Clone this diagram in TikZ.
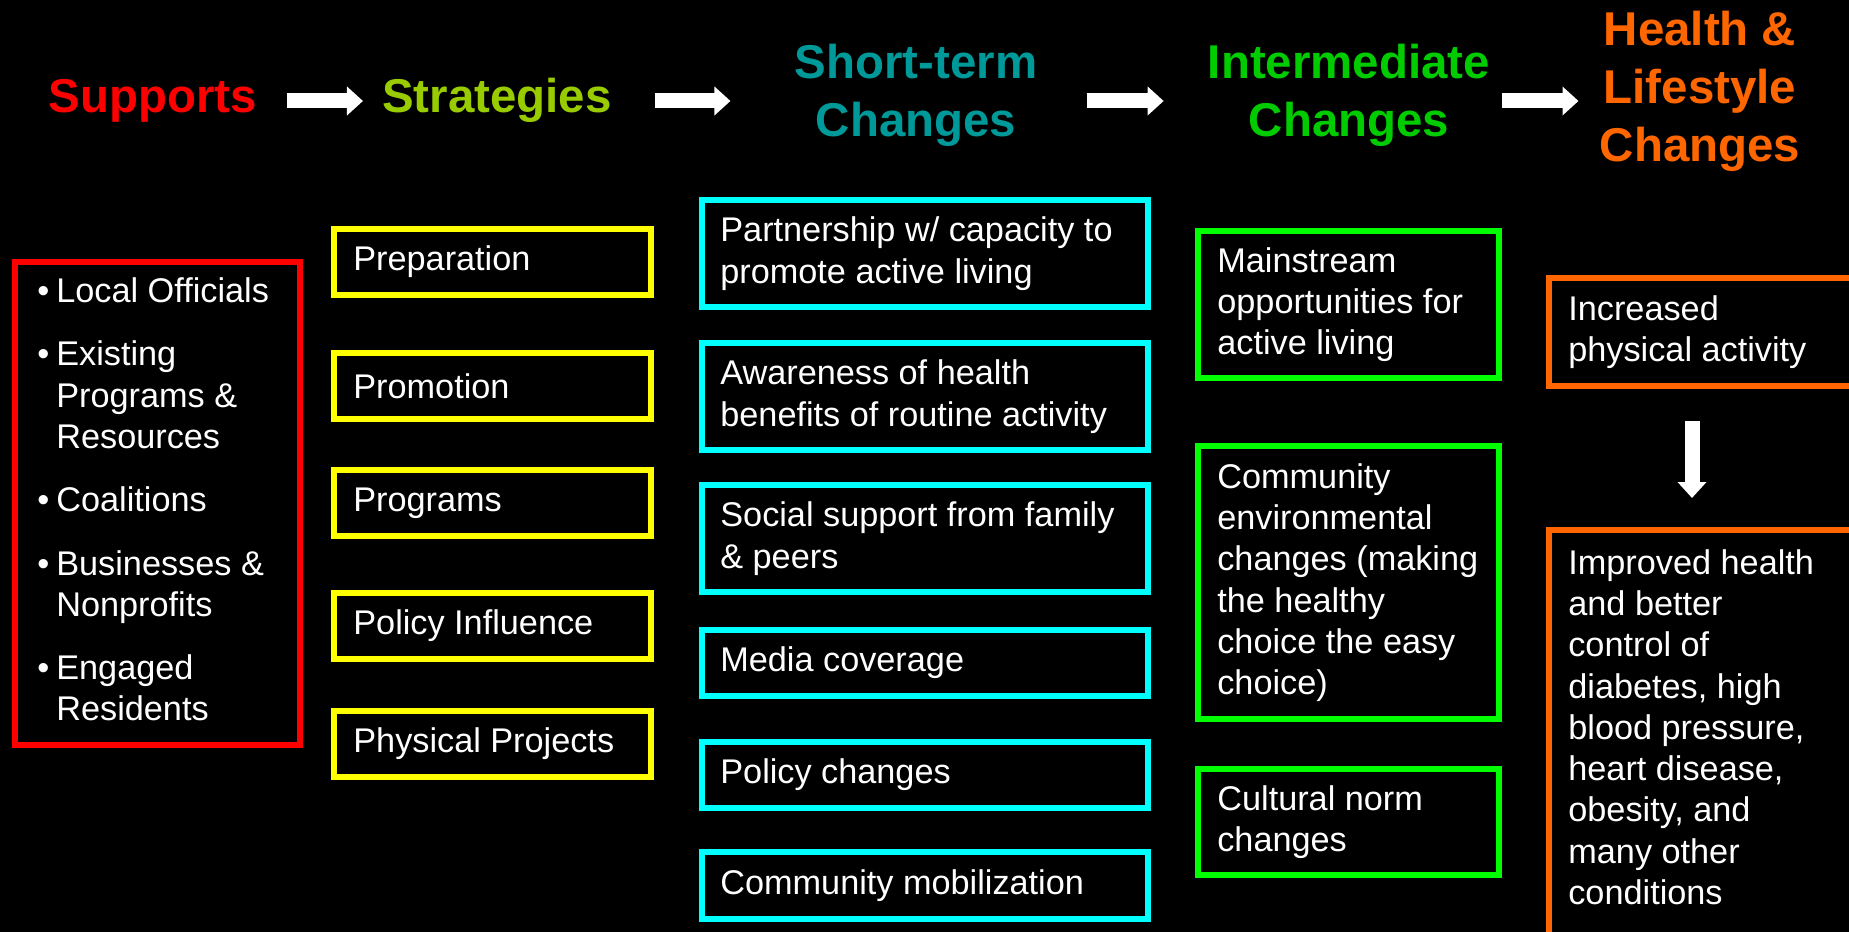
\documentclass[tikz,border=0pt]{standalone}
\usepackage{fontspec}
\setmainfont{Liberation Sans}
\usepackage{tikz}
\usetikzlibrary{arrows.meta,positioning}
\newdimen\pix \pix=0.02cm

\definecolor{supred}{HTML}{FF0000}
\definecolor{strgreen}{HTML}{99CC00}
\definecolor{stteal}{HTML}{009999}
\definecolor{imgreen}{HTML}{00CC00}
\definecolor{hlorange}{HTML}{FF6600}
\definecolor{boxyellow}{HTML}{FFFF00}
\definecolor{boxcyan}{HTML}{00FFFF}
\definecolor{boxgreen}{HTML}{00FF00}

\tikzset{
	title/.style={font=\fontsize{27pt}{33pt}\selectfont\bfseries, inner sep=0pt, align=center},
	box/.style={draw, line width=0.12cm, anchor=north west, inner sep=0pt, outer sep=0pt},
	body/.style={text=white, font=\fontsize{19.5pt}{23.5pt}\selectfont, inner sep=0pt},
	txt/.style={body, align=left},
	flow/.style={white, line width=0.3cm, -{Triangle[length=0.32cm,width=0.56cm]}}
}

\begin{document}
\begin{tikzpicture}[x=0.02cm, y=-0.02cm]
	\fill[black] (0,0) rectangle (1849,932);
	\clip (0,0) rectangle (1849,932);

	% headings
	\node[title, text=supred, anchor=base] (sup) at (153,113) {Supports};
	\node[title, text=strgreen, anchor=base] (str) at (497,113) {Strategies};
	\node[title, text=stteal, anchor=north] (st) at (916,44) {Short-term\\Changes};
	\node[title, text=imgreen, anchor=north] (im) at (1349,44) {Intermediate\\Changes};
	\node[title, text=hlorange, anchor=north] (hl) at (1700,11) {Health \&\\Lifestyle\\Changes};

	\coordinate (arw) at (0,101);
	\draw[flow, shorten <=0.6cm, shorten >=0.38cm] (sup.east |- arw) -- (str.west |- arw);
	\draw[flow, shorten <=0.86cm, shorten >=1.28cm] (str.east |- arw) -- (st.west |- arw);
	\draw[flow, shorten <=0.98cm, shorten >=0.88cm] (st.east |- arw) -- (im.west |- arw);
	\draw[flow, shorten <=0.24cm, shorten >=0.42cm] (im.east |- arw) -- (hl.west |- arw);

	% supports
	\node[box, draw=supred, minimum width=285\pix, minimum height=483\pix] (sp) at (15,262) {};
	\node[body, right=0.44cm of sp.west] (splist) {%
		\begin{tabular}{@{}l@{\hspace{0.14cm}}l@{}}
			\textbullet & Local Officials \\[0.44cm]
			\textbullet & Existing \\
			 & Programs \& \\
			 & Resources \\[0.44cm]
			\textbullet & Coalitions \\[0.44cm]
			\textbullet & Businesses \& \\
			 & Nonprofits \\[0.44cm]
			\textbullet & Engaged \\
			 & Residents
		\end{tabular}};

	% strategies
	\node[box, draw=boxyellow, minimum width=317\pix, minimum height=66\pix] (s1) at (334,229) {};
	\node[box, draw=boxyellow, minimum width=317\pix, minimum height=66\pix] (s2) at (334,353) {};
	\node[box, draw=boxyellow, minimum width=317\pix, minimum height=66\pix] (s3) at (334,470) {};
	\node[box, draw=boxyellow, minimum width=317\pix, minimum height=66\pix] (s4) at (334,593) {};
	\node[box, draw=boxyellow, minimum width=317\pix, minimum height=66\pix] (s5) at (334,711) {};
	\node[txt, right=0.38cm of s1.west] (s1t) {Preparation};
	\node[txt, right=0.38cm of s2.west] (s2t) {Promotion};
	\node[txt, right=0.38cm of s3.west] (s3t) {Programs};
	\node[txt, right=0.38cm of s4.west] (s4t) {Policy Influence};
	\node[txt, right=0.38cm of s5.west] (s5t) {Physical Projects};

	% short-term changes
	\node[box, draw=boxcyan, minimum width=446\pix, minimum height=107\pix] (c1) at (702,200) {};
	\node[box, draw=boxcyan, minimum width=446\pix, minimum height=107\pix] (c2) at (702,343) {};
	\node[box, draw=boxcyan, minimum width=446\pix, minimum height=107\pix] (c3) at (702,485) {};
	\node[box, draw=boxcyan, minimum width=446\pix, minimum height=66\pix] (c4) at (702,630) {};
	\node[box, draw=boxcyan, minimum width=446\pix, minimum height=66\pix] (c5) at (702,742) {};
	\node[box, draw=boxcyan, minimum width=446\pix, minimum height=67\pix] (c6) at (702,852) {};
	\node[txt, right=0.36cm of c1.west] (c1t) {Partnership w/ capacity to\\promote active living};
	\node[txt, right=0.36cm of c2.west] (c2t) {Awareness of health\\benefits of routine activity};
	\node[txt, right=0.36cm of c3.west] (c3t) {Social support from family\\\& peers};
	\node[txt, right=0.36cm of c4.west] (c4t) {Media coverage};
	\node[txt, right=0.36cm of c5.west] (c5t) {Policy changes};
	\node[txt, right=0.36cm of c6.west] (c6t) {Community mobilization};

	% intermediate changes
	\node[box, draw=boxgreen, minimum width=301\pix, minimum height=147\pix] (g1) at (1198,231) {};
	\node[box, draw=boxgreen, minimum width=301\pix, minimum height=273\pix] (g2) at (1198,446) {};
	\node[box, draw=boxgreen, minimum width=301\pix, minimum height=106\pix] (g3) at (1198,769) {};
	\node[txt, right=0.38cm of g1.west] (g1t) {Mainstream\\opportunities for\\active living};
	\node[txt, right=0.38cm of g2.west] (g2t) {Community\\environmental\\changes (making\\the healthy\\choice the easy\\choice)};
	\node[txt, right=0.38cm of g3.west] (g3t) {Cultural norm\\changes};

	% health and lifestyle changes
	\node[box, draw=hlorange, minimum width=400\pix, minimum height=108\pix] (o1) at (1549,278) {};
	\node[box, draw=hlorange, minimum width=400\pix, minimum height=500\pix] (o2) at (1549,530) {};
	\node[txt, right=0.38cm of o1.west] (o1t) {Increased\\physical activity};
	\node[txt, below right=0.38cm and 0.38cm of o2.north west] (o2t) {Improved health\\and better\\control of\\diabetes, high\\blood pressure,\\heart disease,\\obesity, and\\many other\\conditions};

	\coordinate (downx) at (1692,0);
	\draw[flow, shorten <=0.7cm, shorten >=0.64cm] (o1.south -| downx) -- (o2.north -| downx);
\end{tikzpicture}
\end{document}
